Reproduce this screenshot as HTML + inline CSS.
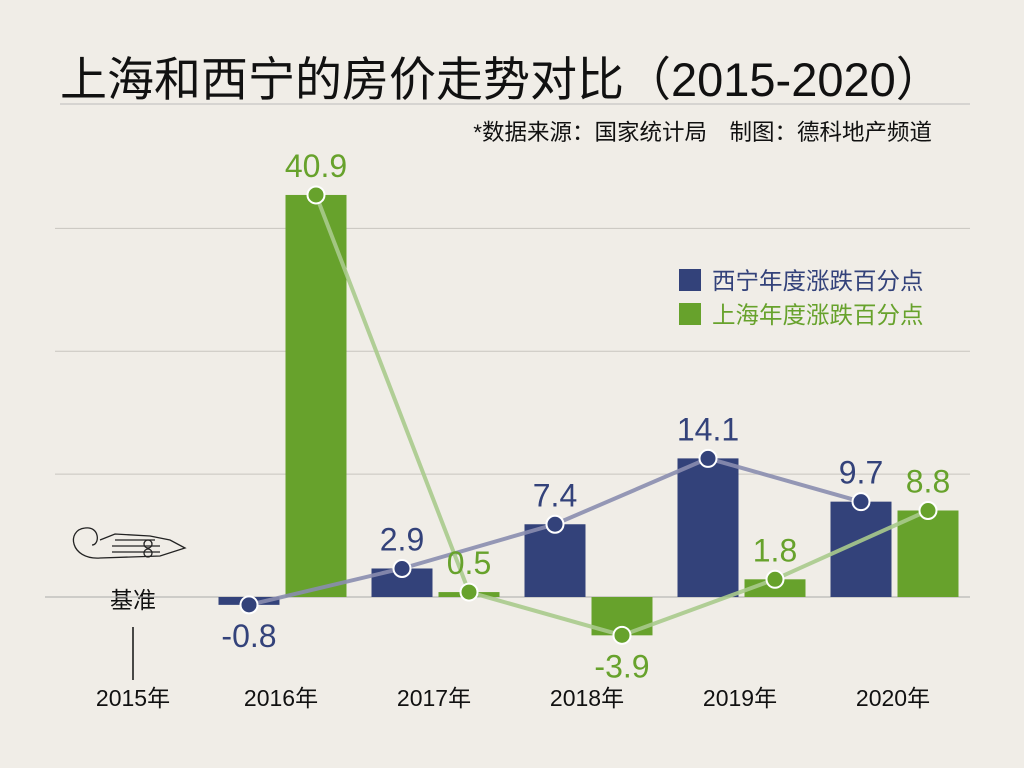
<!DOCTYPE html>
<html><head><meta charset="utf-8"><style>
body{margin:0;background:#f0ede7;}
svg{display:block;font-family:"Liberation Sans","Noto Sans CJK SC",sans-serif;}
</style></head><body>
<svg id="chart" width="1024" height="768">
<rect width="1024" height="768" fill="#f0ede7"/>
<text x="60" y="96" font-size="47" fill="#111">上海和西宁的房价走势对比（2015-2020）</text>
<text x="932" y="140" font-size="22.5" fill="#111" text-anchor="end">*数据来源：国家统计局　制图：德科地产频道</text>
<g>
<rect x="679" y="269" width="22" height="22" fill="#33427a"/>
<text x="712" y="289" font-size="23.5" fill="#33427a">西宁年度涨跌百分点</text>
<rect x="679" y="303" width="22" height="22" fill="#67a22c"/>
<text x="712" y="323" font-size="23.5" fill="#67a22c">上海年度涨跌百分点</text>
</g>
<g>
<g stroke="#222" fill="none" stroke-width="1.3">
<path d="M100 558 C70 560 66 530 85 528 C100 526 100 545 92 545"/>
<path d="M100 558 L160 556 L185 548 L170 540 L150 536 L115 534 L100 540"/>
<line x1="115" y1="540" x2="155" y2="540"/><line x1="112" y1="546" x2="160" y2="546"/><line x1="112" y1="552" x2="160" y2="552"/>
<circle cx="148" cy="544" r="4"/><circle cx="148" cy="553" r="4"/>
</g>
<text x="133" y="608" font-size="23" fill="#111" text-anchor="middle">基准</text>
<line x1="133" y1="627" x2="133" y2="680" stroke="#111" stroke-width="1.5"/>
</g>
<g id="grid"></g><g id="bars"></g><g id="lines"></g><g id="labels"></g>
</svg>
<script>
const categories=["2016年","2017年","2018年","2019年","2020年"];
const xining=[-0.8,2.9,7.4,14.1,9.7];
const shanghai=[40.9,0.5,-3.9,1.8,8.8];
const gridValues=[12.5,25,37.5];
const NS="http://www.w3.org/2000/svg";
const y0=597, k=9.83;
function y(v){return y0-v*k;}
function cx(i){return 282+i*153;}
function mk(tag,attrs,parent){const e=document.createElementNS(NS,tag);for(const a in attrs)e.setAttribute(a,attrs[a]);document.getElementById(parent).appendChild(e);return e;}
let g=mk('line',{x1:60,x2:970,y1:104,y2:104,stroke:'#bbb','stroke-width':1},'grid');


gridValues.forEach(v=>{const l=mk('line',{x1:55,x2:970,y1:y(v),y2:y(v),stroke:'#c8c5bf','stroke-width':1},'grid');

});
let b=mk('line',{x1:45,x2:970,y1:y0,y2:y0,stroke:'#aaa','stroke-width':1},'grid');


const x15=mk('text',{x:133,y:706,'font-size':23,'text-anchor':'middle',fill:'#111'},'labels');x15.textContent='2015年';


const series=[{d:xining,c:'#33427a',lc:'#8a8daf',off:-33,n:'xining'},{d:shanghai,c:'#67a22c',lc:'#a9ca8c',off:34,n:'shanghai'}];
series.forEach(s=>{
 s.d.forEach((v,i)=>{const x=cx(i)+s.off;
  const r=mk('rect',{x:x-30.5,width:61,y:Math.min(y(v),y0),height:Math.abs(y(v)-y0),fill:s.c},'bars');
  
  
 });
});
series.forEach(s=>{
 const pts=s.d.map((v,i)=>(cx(i)+s.off)+','+y(v)).join(' ');
 const pl=mk('polyline',{points:pts,fill:'none',stroke:s.lc,'stroke-width':4,opacity:0.9},'lines');
 
 
 s.d.forEach((v,i)=>{const x=cx(i)+s.off;
  const c=mk('circle',{cx:x,cy:y(v),r:8.5,fill:s.c,stroke:'#fff','stroke-width':2},'lines');
  
  
  const t=mk('text',{x:x,y:v>=0?y(v)-18:y(v)+42,'font-size':32,'text-anchor':'middle',fill:s.c},'labels');
  t.textContent=v.toFixed(1);
  
  
 });
});
categories.forEach((c,i)=>{const t=mk('text',{x:cx(i)-1,y:706,'font-size':23,'text-anchor':'middle',fill:'#111'},'labels');t.textContent=c;

});
</script>
</body></html>
